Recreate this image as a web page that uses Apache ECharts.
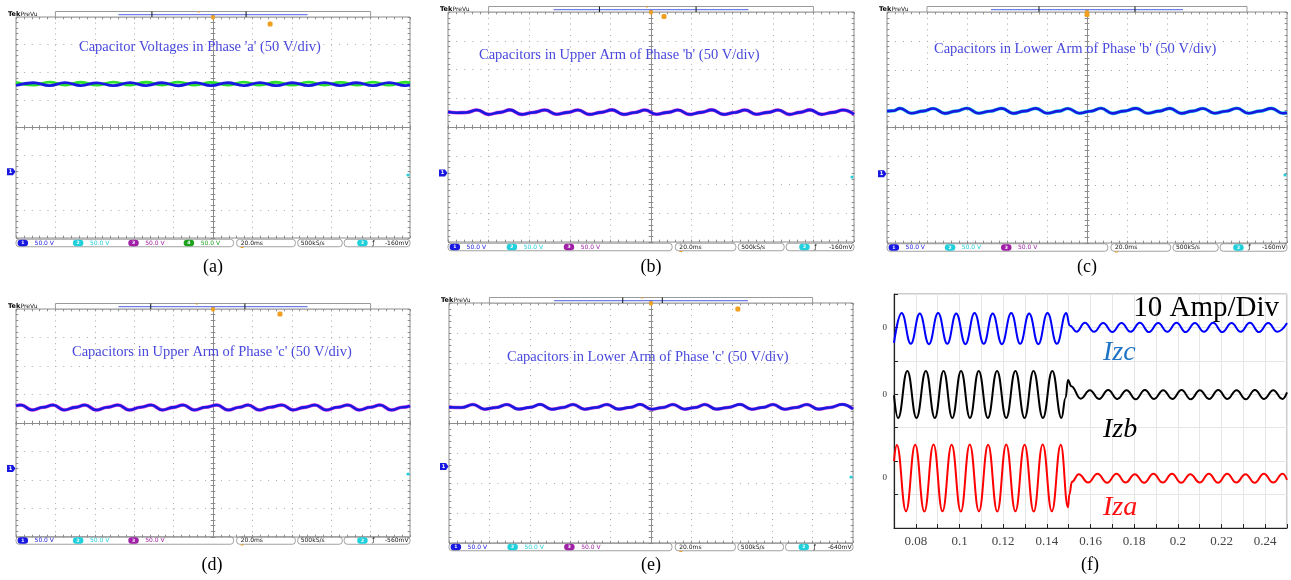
<!DOCTYPE html>
<html>
<head>
<meta charset="utf-8">
<script src="https://cdn.jsdelivr.net/npm/echarts@6/dist/echarts.min.js"></script>
<style>
  html, body { margin: 0; padding: 0; background: #ffffff; }
  #chart { width: 1291px; height: 580px; }
</style>
</head>
<body>
<div id="chart"></div>
<script>
// ---------------------------------------------------------------
// Scope captures: time in ms (screen centre = 0), voltage in volts
// ---------------------------------------------------------------
const scopeSpanMs = [-100, 100];
const scopeMsPerDiv = 20;
const scopeVoltsPerDiv = 50;

const scopeTitles = [
  "Capacitor Voltages in Phase 'a' (50 V/div)",
  "Capacitors in Upper Arm of Phase 'b' (50 V/div)",
  "Capacitors in Lower Arm of Phase 'b' (50 V/div)",
  "Capacitors in Upper Arm of Phase 'c' (50 V/div)",
  "Capacitors in Lower Arm of Phase 'c' (50 V/div)"
];
const panelLabels = ['(a)', '(b)', '(c)', '(d)', '(e)', '(f)'];
const channelScale = '50.0 V';
const timeBase = '20.0ms';
const sampleRate = '500kS/s';
const triggerLevels = ['-160mV', '-160mV', '-160mV', '-560mV', '-640mV'];
const channelCounts = [4, 3, 3, 3, 3];

// Phase 'a' capacitor voltages (ch1 and ch4)
const phaseA_ch1 = [
  [-100,156.0],[-91.2,161.0],[-83.0,155.8],[-75.1,161.2],[-67.0,155.9],[-59.0,160.9],
  [-50.5,155.7],[-42.1,161.1],[-34.0,155.9],[-26.0,161.0],[-17.5,155.6],[-9.1,161.2],
  [-1.0,155.8],[7.4,161.0],[15.6,155.9],[23.8,161.1],[32.0,155.7],[40.2,161.0],
  [48.4,155.8],[56.6,161.2],[64.8,155.9],[73.0,161.0],[81.2,155.7],[89.4,161.1],
  [97.6,155.9],[100,156.6]
];
const phaseA_ch4 = [
  [-100,161.8],[-91.2,156.8],[-83.0,162.0],[-75.1,156.9],[-67.0,161.9],[-59.0,156.7],
  [-50.5,162.1],[-42.1,156.8],[-34.0,161.9],[-26.0,156.9],[-17.5,162.0],[-9.1,156.7],
  [-1.0,161.8],[7.4,156.9],[15.6,162.1],[23.8,156.8],[32.0,161.9],[40.2,156.7],
  [48.4,162.0],[56.6,156.9],[64.8,161.8],[73.0,156.8],[81.2,162.0],[89.4,156.7],
  [97.6,161.9],[100,161.2]
];

// Upper arm, phase 'b'
const upperArmB = [
  [-100,106.2],[-95.5,104.8],[-91.0,105.3],
  [-85.7,109.6],[-80.0,102.0],[-74.3,105.4],
  [-69.5,109.7],[-63.8,101.9],[-58.1,105.3],
  [-52.2,109.5],[-46.5,102.1],[-40.8,105.5],
  [-36.0,109.6],[-30.3,101.9],[-24.6,105.4],
  [-19.2,109.8],[-13.5,102.0],[-7.8,105.3],
  [-3.0,109.6],[2.7,102.1],[8.4,105.5],
  [13.3,109.5],[19.0,101.9],[24.7,105.4],
  [30.0,109.7],[35.7,102.0],[41.4,105.3],
  [46.3,109.6],[52.0,102.1],[57.7,105.4],
  [62.6,109.5],[68.3,101.9],[73.4,105.5],
  [78.3,109.7],[84.0,102.0],[89.7,105.4],
  [94.6,109.6],[100,102.2]
];

// Lower arm, phase 'b'
const lowerArmB = [
  [-100,108.4],[-96.8,108.9],
  [-93.5,113.2],[-87.8,104.6],[-82.1,108.3],
  [-76.8,113.0],[-71.1,104.5],[-65.4,108.4],
  [-60.0,113.3],[-54.3,104.7],[-48.6,108.2],
  [-42.6,113.1],[-36.9,104.5],[-31.2,108.4],
  [-25.6,113.2],[-19.9,104.6],[-14.2,108.3],
  [-9.6,113.0],[-3.9,104.7],[1.8,108.2],
  [7.0,113.3],[12.7,104.5],[18.4,108.4],
  [24.6,113.1],[30.3,104.6],[36.0,108.3],
  [41.4,113.2],[47.1,104.5],[52.8,108.4],
  [58.0,113.0],[63.7,104.7],[69.4,108.2],
  [75.0,113.3],[80.7,104.6],[86.4,108.3],
  [92.2,113.1],[97.9,104.6],[100,105.5]
];

// Upper arm, phase 'c'
const upperArmC = [
  [-100,110.2],
  [-97.5,111.6],[-91.8,102.8],[-86.1,107.6],
  [-81.2,111.5],[-75.5,102.9],[-69.8,107.5],
  [-65.0,111.7],[-59.3,102.7],[-53.6,107.6],
  [-48.2,111.6],[-42.5,102.8],[-36.8,107.7],
  [-31.4,111.5],[-25.7,102.9],[-20.0,107.5],
  [-15.2,111.7],[-9.5,102.8],[-3.8,107.6],
  [2.0,111.6],[7.7,102.7],[13.4,107.6],
  [17.8,111.5],[23.5,102.9],[29.2,107.7],
  [35.0,111.7],[40.7,102.8],[46.4,107.5],
  [51.8,111.6],[57.5,102.8],[63.2,107.6],
  [68.5,111.5],[74.2,102.9],[79.9,107.6],
  [84.8,111.7],[90.5,102.7],[96.2,107.6],[100,109.8]
];

// Lower arm, phase 'c'
const lowerArmC = [
  [-100,98.8],[-93.6,98.3],
  [-88.1,103.4],[-82.4,95.5],[-76.7,98.4],
  [-71.3,103.3],[-65.6,95.6],[-59.9,98.5],
  [-54.9,103.5],[-49.2,95.4],[-43.5,98.3],
  [-38.6,103.4],[-32.9,95.5],[-27.2,98.4],
  [-21.8,103.3],[-16.1,95.6],[-10.4,98.5],
  [-5.4,103.5],[0.3,95.4],[6.0,98.4],
  [10.9,103.4],[16.6,95.5],[21.8,98.3],
  [26.7,103.3],[32.4,95.6],[38.1,98.4],
  [44.1,103.5],[49.8,95.5],[55.5,98.5],
  [60.4,103.4],[66.1,95.4],[71.8,98.4],
  [77.2,103.3],[82.9,95.6],[88.6,98.4],
  [94.6,103.5],[100,95.8]
];

// ---------------------------------------------------------------
// Circulating currents (time in s, current in A about each trace's zero)
// ---------------------------------------------------------------
const currentTimeRange = [0.07, 0.25];
const currentTimeStep = 0.01;
const currentRange = [-40, 30];
const currentStep = 10;
const currentScaleText = '10 Amp/Div';
const currentNames = ['Izc', 'Izb', 'Iza'];

const izcTrace = [
  [0.0700,-4.6],[0.0735,4.3],[0.0777,-4.9],[0.0818,4.2],[0.0860,-5.0],[0.0902,4.3],
  [0.0944,-4.9],[0.0985,4.2],[0.1027,-5.0],[0.1069,4.3],[0.1111,-4.9],[0.1152,4.2],
  [0.1194,-5.0],[0.1237,4.3],[0.1278,-4.9],[0.1319,4.2],[0.1361,-5.0],[0.1403,4.3],
  [0.1446,-4.9],[0.1489,4.3],[0.1505,0.6],[0.1536,-1.3],[0.1574,1.4],[0.1616,-1.3],
  [0.1658,1.3],[0.1700,-1.4],[0.1742,1.3],[0.1784,-1.3],[0.1826,1.4],[0.1868,-1.4],
  [0.1910,1.3],[0.1952,-1.3],[0.1994,1.4],[0.2036,-1.4],[0.2078,1.3],[0.2120,-1.3],
  [0.2162,1.4],[0.2204,-1.4],[0.2246,1.3],[0.2288,-1.3],[0.2330,1.4],[0.2372,-1.4],
  [0.2414,1.3],[0.2456,-1.3],[0.2500,1.3]
];
const izbTrace = [
  [0.0700,-0.3],[0.0719,-7.1],[0.0761,7.0],[0.0803,-7.1],[0.0846,7.0],[0.0887,-7.1],
  [0.0927,7.0],[0.0967,-7.1],[0.1007,7.0],[0.1048,-7.1],[0.1088,7.0],[0.1130,-7.1],
  [0.1172,7.0],[0.1214,-7.1],[0.1256,7.0],[0.1298,-7.1],[0.1339,7.0],[0.1382,-7.1],
  [0.1425,7.0],[0.1467,-7.1],[0.1486,-1.0],[0.1497,4.3],[0.1512,2.4],[0.1555,-1.3],
  [0.1597,1.2],[0.1639,-1.4],[0.1681,1.3],[0.1723,-1.4],[0.1765,1.2],[0.1807,-1.5],
  [0.1849,1.3],[0.1891,-1.4],[0.1933,1.2],[0.1975,-1.4],[0.2017,1.3],[0.2059,-1.5],
  [0.2101,1.2],[0.2143,-1.4],[0.2185,1.3],[0.2227,-1.4],[0.2269,1.2],[0.2311,-1.5],
  [0.2353,1.3],[0.2395,-1.4],[0.2437,1.2],[0.2479,-1.4],[0.2500,0.6]
];
const izaTrace = [
  [0.0700,5.0],[0.0713,9.8],[0.0755,-10.0],[0.0797,9.9],[0.0839,-10.1],[0.0881,10.0],
  [0.0922,-10.0],[0.0964,9.9],[0.1006,-10.1],[0.1047,10.0],[0.1089,-10.0],[0.1131,9.9],
  [0.1173,-10.1],[0.1214,10.0],[0.1256,-10.0],[0.1298,9.9],[0.1340,-10.1],[0.1381,10.0],
  [0.1423,-10.0],[0.1464,9.9],[0.1497,-8.8],[0.1503,-5.0],[0.1515,-1.2],[0.1546,1.1],
  [0.1589,-1.4],[0.1632,1.2],[0.1676,-1.5],[0.1719,1.2],[0.1761,-1.4],[0.1803,1.1],
  [0.1846,-1.5],[0.1888,1.2],[0.1931,-1.4],[0.1973,1.2],[0.2015,-1.5],[0.2057,1.1],
  [0.2100,-1.4],[0.2142,1.2],[0.2184,-1.5],[0.2226,1.2],[0.2268,-1.4],[0.2310,1.1],
  [0.2352,-1.5],[0.2394,1.2],[0.2437,-1.4],[0.2480,1.2],[0.2500,-0.6]
];

// ---------------------------------------------------------------
// Layout and styling
// ---------------------------------------------------------------
const scopeLayout = [
  { left: 16,  top: 17,  width: 394, height: 221, groundDiv: -1.6,  statusY: 243,   label: [213, 267], title: [79, 47],   trig: [0.645, 7],   barTicks: [0.345, 0.584], smallMark: 0.464, trigDotY: 175 },
  { left: 448, top: 12,  width: 406, height: 230, groundDiv: -1.6,  statusY: 247,   label: [651, 267], title: [479, 55],  trig: [0.532, 4.5], barTicks: [0.373, 0.611], smallMark: 0.49,  trigDotY: 177 },
  { left: 887, top: 12,  width: 400, height: 231, groundDiv: -1.6,  statusY: 247.5, label: [1087, 267], title: [934, 49], trig: [0.5, 2.5],   barTicks: [0.38, 0.62],   smallMark: null,  trigDotY: 175 },
  { left: 16,  top: 309, width: 394, height: 228, groundDiv: -1.6,  statusY: 540.5, label: [212, 565], title: [72, 352],  trig: [0.67, 5],    barTicks: [0.342, 0.581], smallMark: 0.459, trigDotY: 474 },
  { left: 449, top: 303, width: 404, height: 240, groundDiv: -1.45, statusY: 547,   label: [651, 565], title: [507, 357], trig: [0.715, 6],   barTicks: [0.43, 0.528],  smallMark: 0.478, trigDotY: 477 }
];
const currentLayout = { left: 894, top: 294, width: 393, height: 234, label: [1090, 565] };
const currentOffsets = [20, 0, -25];           // zero line of Izc, Izb, Iza
const currentColors = ['#0000ff', '#000000', '#ff0000'];
const currentNameColors = ['#1f74c6', '#000000', '#ff1010'];
const currentNamePos = [[1103, 353], [1103, 430], [1103, 508]];

const CH_COLORS = ['#1818e0', '#22d0dc', '#a020a8', '#1fa31f'];
const FRAME = '#8c8c8c';
const DOTS = '#a8a8a8';
const ORANGE = '#f0a020';
const TITLE_BLUE = '#4848dc';

const grids = [], xAxes = [], yAxes = [], series = [], graphics = [];

function addText(x, y, text, size, color, o) {
  o = o || {};
  const align = o.align || 'left', v = o.v || 'middle';
  graphics.push({
    type: 'text', x: x, y: y, silent: true, z: 200, scaleX: o.scaleX || 1,
    style: {
      text: text, fill: color, fontSize: size,
      fontFamily: o.family || 'DejaVu Sans',
      fontWeight: o.weight || 'normal', fontStyle: o.italic ? 'italic' : 'normal',
      align: align, verticalAlign: v, textAlign: align, textVerticalAlign: v
    }
  });
}
function addRect(x, y, w, h, style, r) {
  graphics.push({ type: 'rect', silent: true, z: 190, shape: { x: x, y: y, width: w, height: h, r: r || 0 }, style: style });
}
function addLine(x1, y1, x2, y2, color, w) {
  graphics.push({ type: 'line', silent: true, z: 195, shape: { x1: x1, y1: y1, x2: x2, y2: y2 }, style: { stroke: color, lineWidth: w || 1 } });
}
function addPill(x, y, num, color) {
  addRect(x, y - 3.2, 10.5, 6.4, { fill: color }, 3.2);
  addText(x + 5.25, y, num, 4.5, '#ffffff', { align: 'center', weight: 'bold' });
}

function addScope(i, traces) {
  const L = scopeLayout[i];
  const g = grids.length;
  const divX = L.width / 10, divY = L.height / 8;
  grids.push({ left: L.left, top: L.top, width: L.width, height: L.height, show: true,
               borderColor: FRAME, borderWidth: 1, backgroundColor: '#ffffff' });

  const tick = (inside) => ({ show: true, inside: inside, length: 2.3, lineStyle: { color: FRAME, width: 1 } });
  const minor = { show: true, splitNumber: 5, length: 2.3, lineStyle: { color: FRAME, width: 1 } };
  const xBase = { type: 'value', gridIndex: g, min: scopeSpanMs[0], max: scopeSpanMs[1], interval: scopeMsPerDiv,
                  axisLabel: { show: false }, splitLine: { show: false }, minorTick: minor };
  const yBase = { type: 'value', gridIndex: g, min: -4, max: 4, interval: 1,
                  axisLabel: { show: false }, splitLine: { show: false }, minorTick: minor };
  const xMain = xAxes.length, yMain = yAxes.length;

  // frame edges: bottom/top and left/right, with the dotted graticule
  xAxes.push(Object.assign({}, xBase, { position: 'bottom', axisLine: { show: false, onZero: false }, axisTick: tick(true),
    splitLine: { show: true, lineStyle: { color: DOTS, width: 1, type: [1, divY / 5 - 1] } } }));
  xAxes.push(Object.assign({}, xBase, { position: 'top', axisLine: { show: false, onZero: false }, axisTick: tick(true) }));
  yAxes.push(Object.assign({}, yBase, { position: 'left', axisLine: { show: false, onZero: false }, axisTick: tick(true),
    splitLine: { show: true, lineStyle: { color: DOTS, width: 1, type: [1, divX / 5 - 1] } } }));
  yAxes.push(Object.assign({}, yBase, { position: 'right', axisLine: { show: false, onZero: false }, axisTick: tick(true) }));
  // centre cross with ticks on both sides
  [true, false].forEach(inside => {
    xAxes.push(Object.assign({}, xBase, { position: 'bottom',
      axisLine: { show: true, onZero: true, onZeroAxisIndex: yMain, lineStyle: { color: FRAME, width: 1 } }, axisTick: tick(inside) }));
    yAxes.push(Object.assign({}, yBase, { position: 'left',
      axisLine: { show: true, onZero: true, onZeroAxisIndex: xMain, lineStyle: { color: FRAME, width: 1 } }, axisTick: tick(inside) }));
  });

  traces.forEach(tr => {
    series.push({
      type: 'line', xAxisIndex: xMain, yAxisIndex: yMain, silent: true, animation: false,
      data: tr.data.map(p => [p[0], p[1] / scopeVoltsPerDiv + L.groundDiv]),
      showSymbol: false, smooth: 0.45, smoothMonotone: 'x', z: tr.z,
      lineStyle: { color: tr.color, width: tr.width }
    });
  });

  const left = L.left, top = L.top, W = L.width;
  const centreY = top + L.height / 2;
  const groundY = centreY - L.groundDiv * divY;

  // Tek header and record bar
  addText(left - 8, top - 3, 'Tek', 6.5, '#000000', { weight: 'bold' });
  addText(left + 4.5, top - 3, 'PreVu', 6, '#222222');
  addRect(left + 0.1 * W, top - 5.5, 0.8 * W, 5.5, { fill: '#ffffff', stroke: '#9a9a9a', lineWidth: 1 });
  addLine(left + 0.26 * W, top - 2.4, left + 0.74 * W, top - 2.4, '#6f7fe8', 1.2);
  L.barTicks.forEach(f => addLine(left + f * W, top - 5.5, left + f * W, top, '#111111', 1));
  addRect(left + 0.5 * W - 1.8, top - 3, 3.6, 5.5, { fill: ORANGE }, 1);
  if (L.smallMark !== null) addLine(left + L.smallMark * W - 1, top - 5, left + L.smallMark * W + 1, top - 5, ORANGE, 1);
  addRect(left + L.trig[0] * W - 2.5, top + L.trig[1] - 2.5, 5, 5, { fill: ORANGE }, 1.5);

  // in-screen title
  addText(L.title[0], L.title[1], scopeTitles[i], 14.5, TITLE_BLUE, { family: 'Liberation Serif' });

  // channel 1 ground marker and trigger level dot
  graphics.push({ type: 'polygon', silent: true, z: 190,
    shape: { points: [[left - 9, groundY - 3.5], [left - 3, groundY - 3.5], [left - 0.5, groundY], [left - 3, groundY + 3.5], [left - 9, groundY + 3.5]] },
    style: { fill: CH_COLORS[0] } });
  addText(left - 5.5, groundY, '1', 5, '#ffffff', { align: 'center', weight: 'bold' });
  graphics.push({ type: 'circle', silent: true, z: 190, shape: { cx: left + W - 2, cy: L.trigDotY, r: 1.6 }, style: { fill: CH_COLORS[1] } });

  // status bar
  const sy = L.statusY, bh = 7.5;
  const box = (f1, f2) => addRect(left + f1 * W, sy - bh / 2, (f2 - f1) * W, bh, { fill: 'none', stroke: '#8a8a8a', lineWidth: 0.8 }, 3);
  box(0, 0.552); box(0.56, 0.709); box(0.715, 0.828); box(0.833, 1);
  for (let c = 0; c < channelCounts[i]; c++) {
    const px = left + W * (0.004 + 0.1405 * c);
    addPill(px, sy, String(c + 1), CH_COLORS[c]);
    addText(px + 17, sy, channelScale, 6, CH_COLORS[c]);
  }
  addText(left + 0.56 * W + 4, sy, timeBase, 6, '#111111');
  addLine(left + 0.56 * W + 4, sy + 4.5, left + 0.56 * W + 7, sy + 4.5, ORANGE, 1);
  addText(left + 0.715 * W + 3, sy, sampleRate, 6, '#111111');
  addPill(left + 0.833 * W + 13, sy, '2', CH_COLORS[1]);
  addText(left + 0.833 * W + 28, sy, 'ƒ', 6.5, '#111111');
  addText(left + W - 1.5, sy, triggerLevels[i], 6, '#111111', { align: 'right' });

  addText(L.label[0], L.label[1], panelLabels[i], 18, '#000000', { family: 'Liberation Serif', align: 'center' });
}

addScope(0, [
  { data: phaseA_ch4, color: '#2ee02e', width: 2.8, z: 2 },
  { data: phaseA_ch1, color: CH_COLORS[0], width: 2.8, z: 3 }
]);
addScope(1, [
  { data: upperArmB, color: '#e040e0', width: 3.6, z: 2 },
  { data: upperArmB, color: CH_COLORS[0], width: 2.6, z: 3 }
]);
addScope(2, [
  { data: lowerArmB, color: '#30d8e8', width: 3.6, z: 2 },
  { data: lowerArmB, color: CH_COLORS[0], width: 2.6, z: 3 }
]);
addScope(3, [
  { data: upperArmC, color: '#e040e0', width: 3.6, z: 2 },
  { data: upperArmC, color: CH_COLORS[0], width: 2.6, z: 3 }
]);
addScope(4, [
  { data: lowerArmC, color: '#d050d8', width: 3.4, z: 2 },
  { data: lowerArmC, color: CH_COLORS[0], width: 2.6, z: 3 }
]);

// ---------------------------------------------------------------
// Circulating-current plot
// ---------------------------------------------------------------
(function () {
  const C = currentLayout;
  const g = grids.length;
  grids.push({ left: C.left, top: C.top, width: C.width, height: C.height, show: true, borderColor: '#9a9a9a', borderWidth: 1 });
  const xi = xAxes.length, yi = yAxes.length;
  xAxes.push({
    type: 'value', gridIndex: g, min: currentTimeRange[0], max: currentTimeRange[1], interval: currentTimeStep,
    position: 'bottom',
    axisLine: { show: true, onZero: false, lineStyle: { color: '#222222', width: 1.2 } },
    axisTick: { show: true, inside: true, length: 4, lineStyle: { color: '#222222' } },
    splitLine: { show: true, lineStyle: { color: '#e6e6e6', width: 1 } },
    axisLabel: {
      margin: 7, fontSize: 13, fontFamily: 'Liberation Serif', color: '#444444',
      formatter: v => (Math.round(v * 100) % 2 === 0) ? String(Number(v.toFixed(2))) : ''
    }
  });
  yAxes.push({
    type: 'value', gridIndex: g, min: currentRange[0], max: currentRange[1], interval: currentStep,
    position: 'left',
    axisLine: { show: true, onZero: false, lineStyle: { color: '#222222', width: 1.2 } },
    axisTick: { show: true, inside: true, length: 4, lineStyle: { color: '#222222' } },
    splitLine: { show: true, lineStyle: { color: '#e6e6e6', width: 1 } },
    axisLabel: { show: false }
  });
  // zero labels of the three stacked traces
  yAxes.push({
    type: 'value', gridIndex: g, min: currentRange[0], max: currentRange[1], interval: 5,
    position: 'left',
    axisLine: { show: false, onZero: false }, axisTick: { show: false }, splitLine: { show: false },
    axisLabel: {
      margin: 7, fontSize: 9, fontFamily: 'Liberation Serif', color: '#333333',
      formatter: v => currentOffsets.indexOf(v) >= 0 ? '0' : ''
    }
  });
  [izcTrace, izbTrace, izaTrace].forEach((tr, k) => {
    series.push({
      type: 'line', xAxisIndex: xi, yAxisIndex: yi, silent: true, animation: false,
      data: tr.map(p => [p[0], p[1] + currentOffsets[k]]),
      showSymbol: false, smooth: 0.45, smoothMonotone: 'x',
      lineStyle: { color: currentColors[k], width: 2 }
    });
    addText(currentNamePos[k][0], currentNamePos[k][1], currentNames[k], 28, currentNameColors[k],
            { family: 'Liberation Serif', italic: true });
  });
  addText(C.left + C.width - 8, 308, currentScaleText, 29, '#000000', { family: 'Liberation Serif', align: 'right' });
  addText(C.label[0], C.label[1], panelLabels[5], 18, '#000000', { family: 'Liberation Serif', align: 'center' });
})();

const chart = echarts.init(document.getElementById('chart'), null, { renderer: 'canvas', width: 1291, height: 580 });
chart.setOption({
  animation: false,
  backgroundColor: '#ffffff',
  grid: grids,
  xAxis: xAxes,
  yAxis: yAxes,
  series: series,
  graphic: { elements: graphics }
});
</script>
</body>
</html>
